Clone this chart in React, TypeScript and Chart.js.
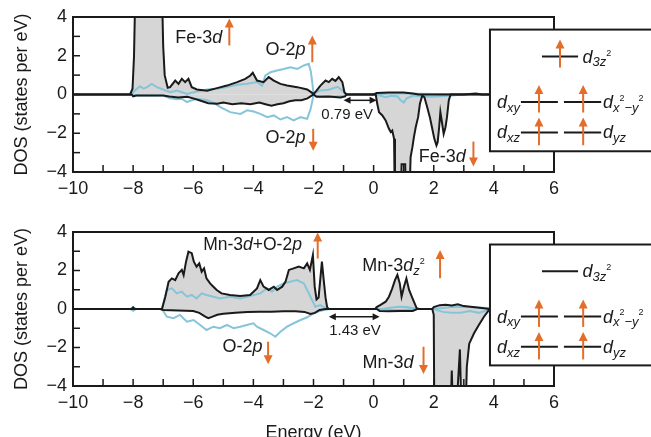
import React, { useEffect, useRef } from 'react';
import { Chart, registerables } from 'chart.js';

Chart.register(...registerables);

const FONT = '"Liberation Sans", Arial, sans-serif';
const BLACK = '#1a1a1a';
const BLUE = 'rgb(134, 197, 217)';
const ORANGE = 'rgb(226, 110, 42)';
const GRAY = 'rgb(214, 214, 214)';

// ---------- axis settings ----------
const xMin = -10;
const xMax = 6;
const yMin = -4;
const yMax = 4;
const tickStep = 1;
const xTitle = 'Energy (eV)';
const yTitle = 'DOS (states per eV)';

// ---------- top panel (Fe) ----------
const topTotUpE = [-10, -8.1, -8.02, -7.97, -7.92, -7.05, -7.0, -6.95, -6.85, -6.77, -6.6, -6.49, -6.38, -6.27, -6.16, -6.05, -5.88, -5.54, -5.21, -4.88, -4.54, -4.27, -4.1, -4.02, -3.88, -3.66, -3.49, -3.32, -3.1, -2.88, -2.54, -2.21, -2.08, -2.0, -1.9, -1.77, -1.6, -1.49, -1.38, -1.27, -1.16, -1.04, -0.97, -0.9, 0, 0.1, 0.5, 1.0, 1.3, 1.5, 3.0, 3.4, 3.6, 4, 6];
const topTotUp = [0, 0, 0.3, 2, 6, 6, 2.5, 1.0, 0.35, 0.38, 0.72, 0.55, 0.81, 0.64, 0.81, 0.38, 0.26, 0.2, 0.33, 0.46, 0.64, 0.81, 0.98, 1.12, 0.72, 0.64, 0.9, 0.72, 0.55, 0.46, 0.38, 0.26, 0.12, 0.02, 0.2, 0.46, 0.72, 0.64, 0.81, 0.7, 0.9, 0.64, 0.1, 0, 0, 0.08, 0.1, 0.1, 0.05, 0, 0, 0.05, 0, 0, 0];

const topTotDnE = [-10, -8.05, -8.0, -7.9, -7.0, -6.8, -6.5, -6.2, -6.0, -5.8, -5.5, -5.2, -5.0, -4.7, -4.4, -4.1, -3.8, -3.6, -3.4, -3.2, -3.0, -2.8, -2.6, -2.4, -2.2, -2.0, -1.9, -1.5, -1.1, -0.95, -0.9, 0.0, 0.07, 0.12, 0.18, 0.29, 0.4, 0.51, 0.57, 0.62, 0.68, 0.71, 0.9, 0.93, 1.05, 1.08, 1.18, 1.23, 1.29, 1.34, 1.4, 1.48, 1.54, 1.62, 1.69, 1.78, 1.87, 1.94, 2.02, 2.09, 2.13, 2.18, 2.22, 2.28, 2.33, 2.39, 2.44, 2.5, 2.56, 2.7, 6];
const topTotDn = [0, 0, -0.1, -0.05, -0.05, -0.1, -0.15, -0.12, -0.2, -0.3, -0.45, -0.48, -0.42, -0.5, -0.45, -0.5, -0.42, -0.5, -0.58, -0.5, -0.45, -0.35, -0.3, -0.3, -0.2, 0, -0.12, -0.1, -0.15, -0.1, 0, 0, 0, -0.48, -0.91, -1.08, -1.34, -1.77, -1.94, -1.86, -2.29, -6, -6, -3.6, -3.6, -6, -6, -3.23, -2.72, -2.2, -1.69, -1.17, -0.48, -0.05, -0.14, -0.65, -1.17, -1.69, -2.29, -2.63, -2.46, -1.69, -0.91, -1.51, -2.03, -1.69, -1.17, -0.31, 0, 0, 0];

const topO2pUpE = [-10, -8.05, -7.95, -7.77, -7.65, -7.54, -7.38, -7.21, -7.0, -6.77, -6.54, -6.21, -5.88, -5.54, -5.21, -4.88, -4.54, -4.21, -3.88, -3.71, -3.6, -3.43, -3.21, -2.99, -2.77, -2.54, -2.32, -2.16, -2.09, -2.04, -2.0, -1.8, -1.5, -1.2, -1.0, -0.9, 0, 0.5, 1, 2, 4, 6];
const topO2pUp = [0, 0, 0.2, 0.43, 0.3, 0.38, 0.55, 0.38, 0.26, 0.12, 0.2, 0.03, 0.15, 0.26, 0.3, 0.38, 0.5, 0.55, 0.64, 0.46, 0.98, 1.15, 1.24, 1.32, 1.41, 1.32, 1.5, 1.58, 1.2, 0.6, 0.05, 0.2, 0.25, 0.4, 0.15, 0.02, 0, 0.05, 0.05, 0.02, 0, 0];

const topO2pDnE = [-10, -8.05, -7.9, -7.0, -6.77, -6.54, -6.38, -6.21, -6.05, -5.88, -5.54, -5.3, -5.1, -4.77, -4.43, -4.21, -3.99, -3.77, -3.54, -3.32, -3.1, -2.88, -2.66, -2.43, -2.21, -2.1, -2.04, -2.0, -1.8, -1.5, -1.0, -0.9, 0.0, 0.2, 0.4, 0.6, 0.8, 0.9, 1.0, 1.1, 1.32, 1.6, 2.0, 2.6, 3, 6];
const topO2pDn = [0, 0, -0.05, -0.05, -0.2, -0.25, -0.22, -0.39, -0.3, -0.22, -0.3, -0.45, -0.65, -0.91, -1.0, -0.82, -0.88, -1.0, -1.17, -1.08, -1.29, -1.17, -1.34, -1.17, -1.26, -0.77, -0.35, -0.02, -0.1, -0.12, -0.08, 0, 0, -0.05, -0.14, -0.06, -0.1, -0.3, -0.42, -0.2, -0.05, -0.1, -0.12, -0.05, 0, 0];

// ---------- bottom panel (Mn) ----------
const botTotUpE = [-10, -8.05, -8.0, -7.95, -7.1, -7.04, -6.93, -6.82, -6.71, -6.6, -6.49, -6.38, -6.32, -6.24, -6.16, -6.05, -5.98, -5.89, -5.8, -5.72, -5.64, -5.56, -5.44, -5.33, -5.22, -5.06, -4.78, -4.44, -4.11, -3.88, -3.77, -3.66, -3.49, -3.32, -3.21, -3.04, -2.93, -2.82, -2.66, -2.49, -2.32, -2.21, -2.12, -2.02, -1.96, -1.9, -1.83, -1.72, -1.66, -1.6, -1.55, -1.5, 0.05, 0.1, 0.23, 0.4, 0.51, 0.62, 0.71, 0.79, 0.87, 0.93, 1.01, 1.09, 1.18, 1.27, 1.34, 1.43, 1.5, 1.95, 2.0, 2.2, 2.4, 2.6, 2.8, 3.0, 3.3, 3.6, 3.85, 4.0, 6];
const botTotUp = [0, 0, 0.08, 0, 0, 0, 0.64, 1.42, 1.59, 1.5, 1.85, 2.03, 1.76, 2.46, 2.98, 2.9, 2.46, 2.2, 2.37, 1.94, 2.11, 1.59, 1.33, 1.16, 0.99, 0.81, 0.73, 0.68, 0.73, 1.07, 1.5, 1.16, 0.99, 1.16, 0.99, 1.16, 1.42, 2.03, 2.11, 2.2, 2.11, 2.37, 2.03, 2.8, 1.16, 0.5, 0.6, 2.46, 1.5, 0.6, 0.12, 0, 0, 0.1, 0.21, 0.38, 0.64, 1.07, 1.5, 1.77, 1.33, 0.64, 1.16, 1.59, 0.99, 0.64, 0.38, 0.05, 0, 0, 0.1, 0.2, 0.22, 0.18, 0.25, 0.15, 0.1, 0.05, 0, 0, 0];

const botTotDnE = [-10, -7.1, -7.0, -6.5, -6.0, -5.8, -5.6, -5.5, -5.4, -5.2, -5.0, -4.6, -4.2, -3.8, -3.4, -3.0, -2.6, -2.3, -2.1, -1.95, -1.8, -1.6, 0.1, 0.2, 0.5, 0.9, 1.3, 1.45, 1.95, 2.0, 2.02, 2.55, 2.6, 2.65, 2.7, 2.8, 2.87, 2.93, 3.0, 3.05, 3.1, 3.18, 3.34, 3.5, 3.67, 3.84, 3.95, 6];
const botTotDn = [0, 0, -0.05, -0.08, -0.1, -0.2, -0.4, -0.48, -0.42, -0.3, -0.25, -0.2, -0.15, -0.14, -0.14, -0.12, -0.12, -0.15, -0.26, -0.2, -0.05, 0, 0, -0.1, -0.12, -0.1, -0.1, 0, 0, -0.3, -6, -6, -3.2, -6, -6, -4, -2.1, -6, -6, -6, -3.0, -1.8, -1.26, -0.83, -0.4, -0.05, 0, 0];

const botO2pUpE = [-10, -8.1, -8.0, -7.9, -7.04, -6.88, -6.71, -6.55, -6.38, -6.21, -6.05, -5.89, -5.72, -5.56, -5.33, -5.11, -4.78, -4.44, -4.11, -3.77, -3.55, -3.38, -3.21, -2.99, -2.77, -2.55, -2.32, -2.1, -1.94, -1.77, -1.6, -1.5, 0.3, 0.5, 0.8, 1.1, 1.3, 1.5, 2.0, 2.3, 2.6, 3.0, 3.4, 3.8, 4.0, 6];
const botO2pUp = [0, 0, 0.1, 0, 0, 0.99, 1.07, 0.81, 0.9, 0.64, 0.73, 0.55, 0.81, 0.73, 0.64, 0.55, 0.64, 0.55, 0.68, 0.81, 1.07, 0.9, 1.16, 1.33, 1.42, 1.5, 1.33, 0.64, 0.12, 0.2, 0.05, 0, 0, 0.05, 0.12, 0.1, 0.05, 0, 0, 0.05, 0.1, 0.12, 0.08, 0.05, 0, 0];

const botO2pDnE = [-10, -8.1, -8.0, -7.9, -7.04, -6.88, -6.66, -6.44, -6.21, -5.99, -5.77, -5.56, -5.33, -5.11, -4.88, -4.66, -4.44, -4.22, -4.0, -3.88, -3.66, -3.44, -3.27, -3.1, -2.88, -2.66, -2.43, -2.21, -1.99, -1.88, -1.66, -1.44, 0.2, 0.5, 0.9, 1.3, 2.0, 2.3, 2.6, 2.9, 3.2, 3.5, 3.8, 4.0, 6];
const botO2pDn = [0, 0, -0.1, 0, 0, -0.4, -0.48, -0.31, -0.66, -0.57, -0.83, -1.09, -0.92, -1.0, -0.83, -1.0, -0.92, -0.83, -0.74, -0.92, -1.09, -1.26, -1.44, -1.18, -0.92, -0.74, -0.57, -0.43, -0.22, -0.14, -0.05, 0, 0, -0.05, -0.05, 0, 0, -0.15, -0.2, -0.2, -0.1, -0.2, -0.05, 0, 0];

// ---------- annotations (in data units) ----------
type Run = { t: string; it?: boolean; lv?: 0 | 1 | 2 };
type Label = { x: number; y: number; runs: Run[]; align?: 'left' | 'right' | 'center'; size?: number };
type Arrow = { x: number; y0: number; y1: number };
type Gap = { x0: number; x1: number; y: number; text: string; tx: number; ty: number };

const feD: Run[] = [{ t: 'Fe-3' }, { t: 'd', it: true }];
const o2p: Run[] = [{ t: 'O-2' }, { t: 'p', it: true }];
const mnD: Run[] = [{ t: 'Mn-3' }, { t: 'd', it: true }];

const topLabels: Label[] = [
  { x: -6.6, y: 2.68, runs: feD },
  { x: -3.6, y: 2.06, runs: o2p },
  { x: -3.6, y: -2.48, runs: o2p },
  { x: 1.5, y: -3.5, runs: feD },
];
const topArrows: Arrow[] = [
  { x: -4.8, y0: 2.53, y1: 3.92 },
  { x: -2.04, y0: 1.67, y1: 3.05 },
  { x: -2.01, y0: -1.77, y1: -2.9 },
  { x: 3.32, y0: -2.43, y1: -3.72 },
];
const topGap: Gap = { x0: -1.0, x1: 0.1, y: -0.3, text: '0.79 eV', tx: -0.88, ty: -1.27 };

const botLabels: Label[] = [
  { x: -5.67, y: 3.06, runs: [{ t: 'Mn-3' }, { t: 'd', it: true }, { t: '+O-2' }, { t: 'p', it: true }], size: 17.5 },
  { x: -5.03, y: -2.23, runs: o2p },
  { x: -0.38, y: 1.97, runs: [{ t: 'Mn-3' }, { t: 'd', it: true }, { t: 'z', it: true, lv: 1 }, { t: '2', lv: 2 }] },
  { x: -0.37, y: -3.06, runs: mnD },
];
const botArrows: Arrow[] = [
  { x: -1.86, y0: 2.62, y1: 3.98 },
  { x: -3.51, y0: -1.7, y1: -2.87 },
  { x: 2.21, y0: 1.6, y1: 3.06 },
  { x: 1.66, y0: -1.96, y1: -3.38 },
];
const botGap: Gap = { x0: -1.49, x1: 0.2, y: -0.4, text: '1.43 eV', tx: -0.62, ty: -1.35 };

// inset orbital diagram (data units, shared by both panels)
const insetBox = { x0: 3.87, yTop: 3.35, yBot: -2.93 };
const levelZ2 = { x0: 5.6, x1: 6.8, y: 1.96, arrowX: 6.2, a0: 1.39, a1: 2.84 };
const levelRows = [
  { y: -0.39, a0: -0.93, a1: 0.49, left: [{ t: 'd', it: true }, { t: 'xy', it: true, lv: 1 }] as Run[], right: [{ t: 'd', it: true }, { t: 'x', it: true, lv: 1 }, { t: '2', lv: 2 }, { t: '\u2212y', it: true, lv: 1 }, { t: '2', lv: 2 }] as Run[] },
  { y: -1.96, a0: -2.62, a1: -1.19, left: [{ t: 'd', it: true }, { t: 'xz', it: true, lv: 1 }] as Run[], right: [{ t: 'd', it: true }, { t: 'yz', it: true, lv: 1 }] as Run[] },
];
const levelSegs = [
  { x0: 4.9, x1: 6.13, arrowX: 5.5 },
  { x0: 6.33, x1: 7.57, arrowX: 6.97 },
];
const levelLabelLeftX = 4.87;
const levelLabelRightX = 7.63;
const z2LabelX = 6.95;
const z2Runs: Run[] = [{ t: 'd', it: true }, { t: '3z', it: true, lv: 1 }, { t: '2', lv: 2 }];

// ---------- helpers ----------
const pts = (e: number[], d: number[]) => e.map((x, i) => ({ x, y: d[i] }));

const fmt = (v: any) => {
  const n = Number(v);
  if (Math.abs(n % 2) > 1e-9) return '';
  return n < 0 ? '\u2212' + Math.abs(n) : String(n);
};

function drawRuns(ctx: CanvasRenderingContext2D, runs: Run[], x: number, y: number, align: string, base = 18) {
  const sizes = [base, base * 0.72, base * 0.5];
  const dys = [0, base * 0.22, -base * 0.39];
  const fontOf = (r: Run) => `${r.it ? 'italic ' : ''}${sizes[r.lv || 0]}px ${FONT}`;
  const widths = runs.map((r) => {
    ctx.font = fontOf(r);
    return ctx.measureText(r.t).width;
  });
  const total = widths.reduce((a, b) => a + b, 0);
  let cx = align === 'right' ? x - total : align === 'center' ? x - total / 2 : x;
  ctx.textAlign = 'left';
  ctx.textBaseline = 'alphabetic';
  runs.forEach((r, i) => {
    ctx.font = fontOf(r);
    ctx.fillText(r.t, cx, y + dys[r.lv || 0]);
    cx += widths[i];
  });
}

function orangeArrow(ctx: CanvasRenderingContext2D, x: number, y0: number, y1: number) {
  const dir = y1 < y0 ? -1 : 1;
  const head = 9;
  ctx.strokeStyle = ORANGE;
  ctx.fillStyle = ORANGE;
  ctx.lineWidth = 2;
  ctx.beginPath();
  ctx.moveTo(x, y0);
  ctx.lineTo(x, y1 - dir * head * 0.8);
  ctx.stroke();
  ctx.beginPath();
  ctx.moveTo(x, y1);
  ctx.lineTo(x - 4.5, y1 - dir * head);
  ctx.lineTo(x + 4.5, y1 - dir * head);
  ctx.closePath();
  ctx.fill();
}

function doubleArrow(ctx: CanvasRenderingContext2D, x0: number, x1: number, y: number) {
  const h = 7;
  ctx.strokeStyle = BLACK;
  ctx.fillStyle = BLACK;
  ctx.lineWidth = 1.5;
  ctx.beginPath();
  ctx.moveTo(x0 + h * 0.8, y);
  ctx.lineTo(x1 - h * 0.8, y);
  ctx.stroke();
  ctx.beginPath();
  ctx.moveTo(x0, y);
  ctx.lineTo(x0 + h, y - 3.5);
  ctx.lineTo(x0 + h, y + 3.5);
  ctx.closePath();
  ctx.fill();
  ctx.beginPath();
  ctx.moveTo(x1, y);
  ctx.lineTo(x1 - h, y - 3.5);
  ctx.lineTo(x1 - h, y + 3.5);
  ctx.closePath();
  ctx.fill();
}

type PanelSpec = {
  height: number;
  padTop: number;
  xAxisHeight: number;
  showXTitle: boolean;
  upE: number[]; up: number[];
  dnE: number[]; dn: number[];
  oUpE: number[]; oUp: number[];
  oDnE: number[]; oDn: number[];
  labels: Label[];
  arrows: Arrow[];
  gap: Gap;
  z2Arrow: boolean;
};

function makeDecor(spec: PanelSpec) {
  return {
    id: 'dosDecor',
    afterDraw(chart: any) {
      const { ctx, chartArea: a } = chart;
      const xs = chart.scales.x;
      const ys = chart.scales.y;
      const X = (v: number) => xs.getPixelForValue(v);
      const Y = (v: number) => ys.getPixelForValue(v);
      ctx.save();
      // inward tick marks
      ctx.strokeStyle = BLACK;
      ctx.lineWidth = 1.5;
      xs.ticks.forEach((t: any) => {
        const px = X(t.value);
        ctx.beginPath();
        ctx.moveTo(px, a.bottom);
        ctx.lineTo(px, a.bottom - 7);
        ctx.stroke();
      });
      ys.ticks.forEach((t: any) => {
        const py = Y(t.value);
        ctx.beginPath();
        ctx.moveTo(a.left, py);
        ctx.lineTo(a.left + 7, py);
        ctx.stroke();
      });
      // frame
      ctx.lineWidth = 2;
      ctx.strokeRect(a.left, a.top, a.right - a.left, a.bottom - a.top);

      // labels
      ctx.fillStyle = BLACK;
      spec.labels.forEach((l) => drawRuns(ctx, l.runs, X(l.x), Y(l.y), l.align || 'left', l.size || 18));
      spec.arrows.forEach((ar) => orangeArrow(ctx, X(ar.x), Y(ar.y0), Y(ar.y1)));
      doubleArrow(ctx, X(spec.gap.x0), X(spec.gap.x1), Y(spec.gap.y));
      ctx.fillStyle = BLACK;
      ctx.font = `15px ${FONT}`;
      ctx.textAlign = 'center';
      ctx.textBaseline = 'alphabetic';
      ctx.fillText(spec.gap.text, X(spec.gap.tx), Y(spec.gap.ty));

      // inset box
      const bx = X(insetBox.x0);
      const by = Y(insetBox.yTop);
      const bb = Y(insetBox.yBot);
      ctx.fillStyle = '#ffffff';
      ctx.fillRect(bx, by, chart.width + 10 - bx, bb - by);
      ctx.strokeStyle = BLACK;
      ctx.lineWidth = 2;
      ctx.strokeRect(bx, by, chart.width + 10 - bx, bb - by);

      // levels
      ctx.lineWidth = 2;
      ctx.strokeStyle = BLACK;
      ctx.beginPath();
      ctx.moveTo(X(levelZ2.x0), Y(levelZ2.y));
      ctx.lineTo(X(levelZ2.x1), Y(levelZ2.y));
      ctx.stroke();
      ctx.fillStyle = BLACK;
      drawRuns(ctx, z2Runs, X(z2LabelX), Y(levelZ2.y) + 6, 'left');
      if (spec.z2Arrow) orangeArrow(ctx, X(levelZ2.arrowX), Y(levelZ2.a0), Y(levelZ2.a1));

      levelRows.forEach((row) => {
        levelSegs.forEach((s) => {
          ctx.strokeStyle = BLACK;
          ctx.lineWidth = 2;
          ctx.beginPath();
          ctx.moveTo(X(s.x0), Y(row.y));
          ctx.lineTo(X(s.x1), Y(row.y));
          ctx.stroke();
          orangeArrow(ctx, X(s.arrowX), Y(row.a0), Y(row.a1));
        });
        ctx.fillStyle = BLACK;
        drawRuns(ctx, row.left, X(levelLabelLeftX), Y(row.y) + 6, 'right');
        drawRuns(ctx, row.right, X(levelLabelRightX), Y(row.y) + 6, 'left');
      });
      ctx.restore();
    },
  };
}

function Panel({ spec, top }: { spec: PanelSpec; top: number }) {
  const ref = useRef<HTMLCanvasElement>(null);
  useEffect(() => {
    const tickFont = { family: FONT, size: 18 };
    const chart = new Chart(ref.current as HTMLCanvasElement, {
      type: 'line',
      data: {
        datasets: [
          { data: pts(spec.upE, spec.up), borderColor: BLACK, borderWidth: 2, backgroundColor: GRAY, fill: 'origin' },
          { data: pts(spec.dnE, spec.dn), borderColor: BLACK, borderWidth: 2, backgroundColor: GRAY, fill: 'origin' },
          { data: pts(spec.oUpE, spec.oUp), borderColor: BLUE, borderWidth: 2, fill: false },
          { data: pts(spec.oDnE, spec.oDn), borderColor: BLUE, borderWidth: 2, fill: false },
        ],
      } as any,
      options: {
        responsive: false,
        maintainAspectRatio: false,
        animation: false,
        layout: { padding: { top: spec.padTop, right: 97, left: 0, bottom: 0 } },
        elements: { point: { radius: 0 }, line: { tension: 0 } },
        plugins: {
          legend: { display: false },
          tooltip: { enabled: false },
          filler: { drawTime: 'beforeDatasetsDraw' },
        },
        scales: {
          x: {
            type: 'linear',
            min: xMin,
            max: xMax,
            grid: { display: false, drawTicks: false },
            border: { display: false },
            ticks: { stepSize: tickStep, autoSkip: false, maxRotation: 0, padding: 6, color: BLACK, font: tickFont, callback: fmt },
            title: {
              display: spec.showXTitle,
              text: xTitle,
              color: BLACK,
              font: tickFont,
              padding: { top: 0, bottom: 6 },
            },
            afterFit: (s: any) => {
              s.height = spec.xAxisHeight;
            },
          },
          y: {
            type: 'linear',
            min: yMin,
            max: yMax,
            grid: { display: false, drawTicks: false },
            border: { display: false },
            ticks: { stepSize: tickStep, autoSkip: false, padding: 6, color: BLACK, font: tickFont, callback: fmt },
            title: {
              display: true,
              text: yTitle,
              color: BLACK,
              font: tickFont,
              padding: { top: 11, bottom: 0 },
            },
            afterFit: (s: any) => {
              s.width = 73;
            },
          },
        },
      } as any,
      plugins: [makeDecor(spec) as any],
    });
    return () => chart.destroy();
  }, []);
  return (
    <canvas
      ref={ref}
      width={651}
      height={spec.height}
      style={{ position: 'absolute', left: 0, top, width: 651, height: spec.height, display: 'block' }}
    />
  );
}

const topSpec: PanelSpec = {
  height: 205,
  padTop: 17,
  xAxisHeight: 33,
  showXTitle: false,
  upE: topTotUpE, up: topTotUp,
  dnE: topTotDnE, dn: topTotDn,
  oUpE: topO2pUpE, oUp: topO2pUp,
  oDnE: topO2pDnE, oDn: topO2pDn,
  labels: topLabels,
  arrows: topArrows,
  gap: topGap,
  z2Arrow: true,
};

const botSpec: PanelSpec = {
  height: 245,
  padTop: 27,
  xAxisHeight: 64,
  showXTitle: true,
  upE: botTotUpE, up: botTotUp,
  dnE: botTotDnE, dn: botTotDn,
  oUpE: botO2pUpE, oUp: botO2pUp,
  oDnE: botO2pDnE, oDn: botO2pDn,
  labels: botLabels,
  arrows: botArrows,
  gap: botGap,
  z2Arrow: false,
};

export default function App() {
  return (
    <div style={{ position: 'fixed', left: 0, top: 0, width: 651, height: 437, overflow: 'hidden', background: '#ffffff' }}>
      <Panel spec={topSpec} top={0} />
      <Panel spec={botSpec} top={205} />
    </div>
  );
}
